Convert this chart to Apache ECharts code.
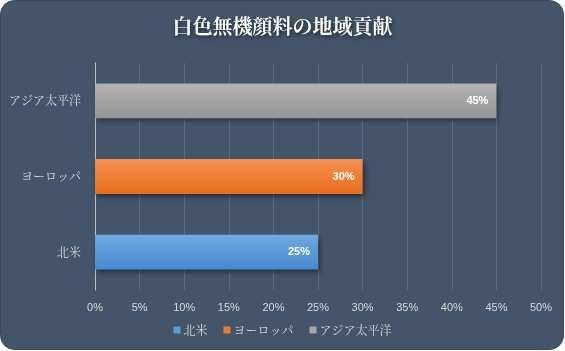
<!DOCTYPE html>
<html><head><meta charset="utf-8">
<script src="https://cdn.jsdelivr.net/npm/echarts@6/dist/echarts.min.js"></script>
<style>html,body{margin:0;padding:0;background:#fff;}#c{width:565px;height:351px;}</style>
</head><body><div id="c"></div>
<script>
const categories = ['北米', 'ヨーロッパ', 'アジア太平洋'];
const seriesNames = ['北米', 'ヨーロッパ', 'アジア太平洋'];
const values = [25, 30, 45];
const xTicks = [0, 5, 10, 15, 20, 25, 30, 35, 40, 45, 50];
const colorsTop = ['#6FA9E1', '#F4904F', '#B4B4B4'];
const colorsBottom = ['#4689CF', '#E86E1C', '#959595'];
const legendColors = ['#5B9BD5', '#ED7D31', '#A5A5A5'];

const chart = echarts.init(document.getElementById('c'), null, {renderer: 'canvas'});
const series = seriesNames.map((name, i) => ({
  name: name,
  type: 'bar',
  stack: 'total',
  barWidth: '46%',
  data: categories.map((c, j) => j === i ? values[i] : null),
  itemStyle: {
    color: new echarts.graphic.LinearGradient(0, 0, 0, 1, [
      {offset: 0, color: colorsTop[i]}, {offset: 1, color: colorsBottom[i]}
    ]),
    shadowColor: 'rgba(0,0,0,0.45)', shadowBlur: 5, shadowOffsetX: 2, shadowOffsetY: 3
  },
  label: {
    show: true, position: 'insideRight', distance: 8,
    formatter: p => p.value + '%',
    color: '#fff', fontWeight: 'bold', fontSize: 11, fontFamily: 'Liberation Sans'
  }
}));

chart.setOption({
  animation: false,
  graphic: [{
    type: 'rect', z: -10, silent: true,
    shape: {x: 0.5, y: 0.5, width: 563, height: 349, r: 14},
    style: {fill: '#44546A', stroke: '#3a4759', lineWidth: 1}
  }],
  title: {
    text: '白色無機顔料の地域貢献', left: 'center', top: 11,
    textStyle: {color: '#fff', fontSize: 20, fontWeight: 'bold', fontFamily: 'Noto Serif CJK JP, Noto Sans CJK JP',
      textShadowColor: 'rgba(0,0,0,0.6)', textShadowBlur: 4, textShadowOffsetX: 1, textShadowOffsetY: 2}
  },
  legend: {
    data: seriesNames.map((n, i) => ({name: n, itemStyle: {color: legendColors[i]}})),
    bottom: 10, left: 'center', itemWidth: 7, itemHeight: 7, itemGap: 16,
    icon: 'rect',
    textStyle: {color: '#D9D9D9', fontSize: 12, fontFamily: 'Noto Serif CJK JP, Noto Sans CJK JP', padding: [0,0,0,-2]}
  },
  grid: {left: 95, right: 24, top: 63, bottom: 61, containLabel: false},
  xAxis: {
    type: 'value', min: 0, max: 50, interval: 5,
    axisLine: {show: false}, axisTick: {show: false},
    splitLine: {lineStyle: {color: '#5A6A80', width: 1}},
    axisLabel: {color: '#D9D9D9', fontSize: 11, fontFamily: 'Liberation Sans', margin: 12,
      formatter: v => v + '%'}
  },
  yAxis: {
    type: 'category', data: categories,
    axisLine: {lineStyle: {color: '#BFBFBF', width: 1}},
    axisTick: {show: false},
    axisLabel: {color: '#D9D9D9', fontSize: 12, fontFamily: 'Noto Serif CJK JP, Noto Sans CJK JP', margin: 14}
  },
  series: series
});
</script></body></html>
